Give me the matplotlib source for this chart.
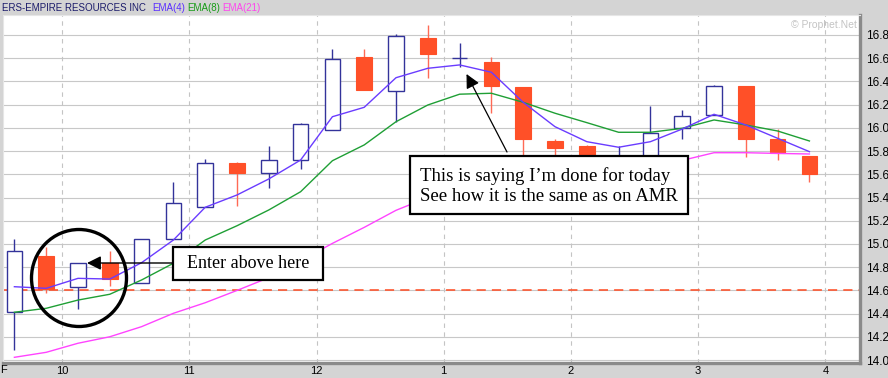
import matplotlib
matplotlib.use('Agg')
import matplotlib.pyplot as plt
from matplotlib.patches import Rectangle, Ellipse, FancyArrowPatch
import numpy as np

W, H = 888, 378

# ---- data (15-minute candles) ----
opens  = [14.41, 14.90, 14.63, 14.84, 14.66, 15.04, 15.32, 15.70, 15.61, 15.72, 15.98, 16.61, 16.32,
          16.77, 16.60, 16.57, 16.35, 15.89, 15.84, 15.66, 15.72, 16.00, 16.11, 16.36, 15.90, 15.76]
highs  = [15.04, 14.97, 14.84, 14.94, 15.04, 15.53, 15.73, 15.71, 15.84, 16.04, 16.68, 16.68, 16.81,
          16.89, 16.73, 16.61, 16.35, 15.90, 15.85, 15.84, 16.19, 16.15, 16.37, 16.36, 15.99, 15.76]
lows   = [14.09, 14.58, 14.44, 14.64, 14.66, 15.04, 15.32, 15.33, 15.48, 15.65, 15.98, 16.33, 16.05,
          16.43, 16.52, 16.13, 15.70, 15.68, 15.60, 15.62, 15.70, 15.90, 16.11, 15.75, 15.72, 15.53]
closes = [14.94, 14.61, 14.84, 14.70, 15.04, 15.35, 15.70, 15.61, 15.72, 16.03, 16.59, 16.33, 16.79,
          16.64, 16.60, 16.36, 15.90, 15.83, 15.68, 15.76, 15.96, 16.10, 16.36, 15.90, 15.78, 15.60]
ema4   = [14.632, 14.618, 14.704, 14.698, 14.839, 15.034, 15.316, 15.422, 15.56, 15.723, 16.096, 16.177,
          16.432, 16.513, 16.542, 16.479, 16.22, 16.01, 15.881, 15.833, 15.881, 15.99, 16.117, 16.025,
          15.91, 15.795]
ema8   = [14.412, 14.446, 14.517, 14.567, 14.69, 14.834, 15.034, 15.157, 15.293, 15.45, 15.717, 15.853,
          16.053, 16.197, 16.29, 16.298, 16.22, 16.126, 16.045, 15.962, 15.962, 15.996, 16.068, 16.025,
          15.973, 15.887]
ema21  = [14.024, 14.067, 14.145, 14.201, 14.288, 14.403, 14.494, 14.60, 14.71, 14.856, 15.005, 15.143,
          15.29, 15.40, 15.50, 15.57, 15.60, 15.62, 15.64, 15.66, 15.69, 15.72, 15.786, 15.786, 15.78,
          15.775]
hour_labels = ['10', '11', '12', '1', '2', '3', '4']
hour_pos = [1.5, 5.5, 9.5, 13.5, 17.5, 21.5, 25.5]
price_ticks = [14.0, 14.2, 14.4, 14.6, 14.8, 15.0, 15.2, 15.4, 15.6, 15.8, 16.0, 16.2, 16.4, 16.6, 16.8]
ref_level = 14.6

BG = '#d4d4d4'
UP = '#33339a'
DN = '#ff5028'
DN_WICK = '#ff6a55'

fig = plt.figure(figsize=(W / 100, H / 100), dpi=100, facecolor=BG)


def fx(x):
    return x / W


def fy(y):
    return 1 - y / H


ax = fig.add_axes([3 / W, 15 / H, 857 / W, 348 / H])
ax.set_facecolor('white')
ax.set_xlim(-0.358, 26.59)
ax.set_ylim(13.975, 16.972)

for p in price_ticks:
    ax.axhline(p, color='#c8c8c8', lw=0.8, zorder=0)
for hp in hour_pos:
    ax.axvline(hp, color='#c4c4c4', lw=0.8, ls=(0, (4, 4)), zorder=0)
ax.axhline(ref_level, color='#ff4a20', lw=1.1, ls=(0, (6, 4)), zorder=1)

o = np.array(opens); h = np.array(highs); l = np.array(lows); c = np.array(closes)
idx = np.arange(len(o))
up = c >= o
dn = ~up
bw = 0.49
ax.vlines(idx[up], l[up], h[up], colors=UP, lw=1.0, zorder=2)
ax.bar(idx[up], c[up] - o[up], bottom=o[up], width=bw, facecolor='white', edgecolor=UP, lw=1.0, zorder=3)
ax.vlines(idx[dn], l[dn], h[dn], colors=DN_WICK, lw=1.0, zorder=2)
ax.bar(idx[dn], o[dn] - c[dn], bottom=c[dn], width=bw, facecolor=DN, edgecolor=DN, lw=0.8, zorder=3)

ax.plot(idx, ema21, color='#ff44ff', lw=1.0, zorder=4)
ax.plot(idx, ema8, color='#1f9f35', lw=1.0, zorder=4)
ax.plot(idx, ema4, color='#6a3cff', lw=1.0, zorder=4)

for s in ['left', 'top']:
    ax.spines[s].set_color('#e6e6e6')
    ax.spines[s].set_linewidth(0.8)
for s in ['right', 'bottom']:
    ax.spines[s].set_color('#8a8a8a')
    ax.spines[s].set_linewidth(2.4)

ax.yaxis.tick_right()
ax.set_yticks(price_ticks, [f'{p:.1f}' for p in price_ticks])
ax.set_xticks(hour_pos, hour_labels)
ax.tick_params(axis='y', length=0, pad=4, labelsize=8.5, labelcolor='black')
ax.tick_params(axis='x', length=0, pad=2, labelsize=8, labelcolor='black')
for t in ax.get_xticklabels() + ax.get_yticklabels():
    t.set_family('Liberation Sans')

fig.text(fx(0), fy(370), 'F', ha='left', va='center', fontsize=8, family='Liberation Sans')
fig.text(fx(857), fy(25), '\u00a9 Prophet.Net', ha='right', va='center', fontsize=7.5,
         color='#c4c4c4', family='Liberation Sans')

# title / legend
fig.text(fx(2), fy(8), 'ERS-EMPIRE RESOURCES INC', ha='left', va='center', fontsize=7,
         color='#1c1c6b', family='Liberation Sans')
fig.text(fx(152), fy(8), 'EMA(4)', ha='left', va='center', fontsize=7, color='#5a2dff', family='Liberation Sans')
fig.text(fx(187), fy(8), 'EMA(8)', ha='left', va='center', fontsize=7, color='#169c16', family='Liberation Sans')
fig.text(fx(222), fy(8), 'EMA(21)', ha='left', va='center', fontsize=7, color='#ff44ee', family='Liberation Sans')

# annotations
fig.add_artist(Ellipse((fx(79), fy(278)), 95 / W, 97 / H, transform=fig.transFigure,
                       fill=False, edgecolor='black', lw=2.4, zorder=10))

fig.add_artist(Rectangle((fx(173), fy(280)), 150 / W, 33 / H, transform=fig.transFigure,
                         facecolor='white', edgecolor='black', lw=1.6, zorder=10))
fig.text(fx(248), fy(264), 'Enter above here', ha='center', va='center', fontsize=13,
         family='Liberation Serif', zorder=11)
fig.add_artist(FancyArrowPatch((fx(173), fy(263)), (fx(87), fy(263)), transform=fig.transFigure,
                               arrowstyle='-|>,head_length=0.6,head_width=0.3', mutation_scale=14,
                               color='black', lw=1.0, shrinkA=0, shrinkB=0, zorder=11))

fig.add_artist(Rectangle((fx(410), fy(214)), 278 / W, 58 / H, transform=fig.transFigure,
                         facecolor='white', edgecolor='black', lw=1.6, zorder=10))
fig.text(fx(420), fy(186), 'This is saying I\u2019m done for today\nSee how it is the same as on AMR',
         ha='left', va='center', fontsize=13.5, family='Liberation Serif', linespacing=1.2, zorder=11)
fig.add_artist(FancyArrowPatch((fx(507), fy(152)), (fx(466.5), fy(74)), transform=fig.transFigure,
                               arrowstyle='-|>,head_length=0.6,head_width=0.3', mutation_scale=14,
                               color='black', lw=0.9, shrinkA=0, shrinkB=0, zorder=11))

fig.savefig('out.png', dpi=100, facecolor=BG)
